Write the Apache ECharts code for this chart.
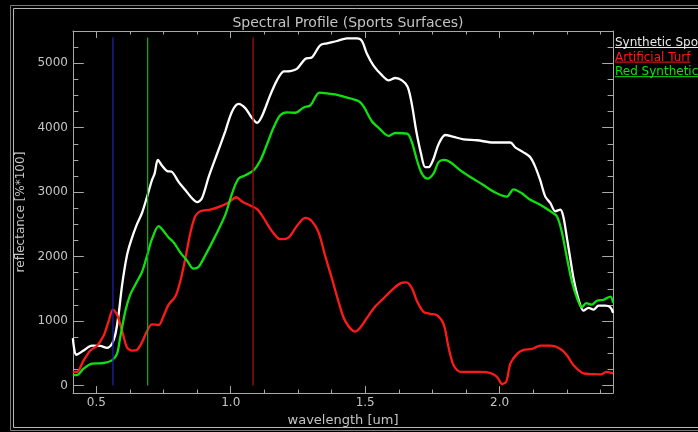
<!DOCTYPE html>
<html>
<head>
<meta charset="utf-8">
<script src="https://cdn.jsdelivr.net/npm/echarts@6/dist/echarts.min.js"></script>
<style>
html,body{margin:0;padding:0;background:#000;}
#chart{width:698px;height:432px;}
</style>
</head>
<body>
<div id="chart"></div>
<script>
// ---- data ----
const titleText = "Spectral Profile (Sports Surfaces)";
const xName = "wavelength [um]";
const yName = "reflectance [%*100]";
const seriesNames = ["Synthetic Sports Surface", "Artificial Turf", "Red Synthetic Track"];

const xMin = 0.4134, xMax = 2.4217;
const yMin = -117, yMax = 5500;
const xMajorTicks = [0.5, 1.0, 1.5, 2.0];
const xMinorTicks = [0.625, 0.75, 0.875, 1.125, 1.25, 1.375, 1.625, 1.75, 1.875, 2.125, 2.25, 2.375];
const yMajorTicks = [0, 1000, 2000, 3000, 4000, 5000];
const yMinorTicks = [250, 500, 750, 1250, 1500, 1750, 2250, 2500, 2750, 3250, 3500, 3750, 4250, 4500, 4750, 5250];

const whiteWl = [0.413,0.426,0.453,0.484,0.515,0.540,0.558,0.571,0.583,0.596,0.614,0.629,0.651,0.670,0.689,0.707,0.717,0.729,0.744,0.763,0.782,0.806,0.831,0.856,0.875,0.893,0.918,0.949,0.980,1.005,1.029,1.054,1.079,1.098,1.116,1.147,1.172,1.197,1.221,1.246,1.277,1.302,1.333,1.358,1.395,1.432,1.470,1.488,1.507,1.531,1.563,1.587,1.612,1.637,1.658,1.674,1.690,1.708,1.723,1.736,1.754,1.773,1.798,1.829,1.866,1.916,1.977,2.040,2.058,2.089,2.114,2.133,2.151,2.170,2.189,2.207,2.226,2.238,2.251,2.263,2.275,2.294,2.312,2.331,2.349,2.368,2.393,2.412,2.422];
const whiteVal = [736,477,543,619,614,584,645,797,1102,1559,2016,2245,2500,2677,2931,3186,3287,3500,3415,3328,3313,3160,3033,2906,2845,2906,3236,3592,3948,4253,4369,4303,4151,4075,4177,4506,4735,4872,4878,4913,5066,5091,5279,5309,5345,5386,5386,5345,5142,4963,4811,4735,4771,4735,4634,4354,3948,3592,3389,3389,3515,3744,3887,3857,3820,3805,3770,3770,3694,3617,3541,3389,3186,2931,2829,2703,2729,2600,2271,1966,1662,1331,1163,1204,1178,1239,1239,1213,1128];

const redWl = [0.413,0.428,0.453,0.478,0.503,0.527,0.546,0.562,0.577,0.596,0.614,0.633,0.651,0.670,0.689,0.707,0.732,0.750,0.769,0.794,0.812,0.831,0.850,0.868,0.887,0.924,0.961,0.992,1.021,1.042,1.066,1.098,1.122,1.153,1.184,1.215,1.246,1.277,1.302,1.327,1.352,1.377,1.401,1.426,1.463,1.482,1.507,1.538,1.569,1.600,1.631,1.653,1.674,1.693,1.717,1.742,1.767,1.792,1.810,1.829,1.854,1.891,1.928,1.964,1.990,2.009,2.025,2.040,2.065,2.089,2.120,2.151,2.189,2.226,2.251,2.275,2.312,2.349,2.374,2.399,2.422];
const redVal = [213,213,391,543,619,771,1000,1178,1102,848,594,543,553,671,848,950,939,1076,1255,1381,1610,1966,2372,2627,2703,2729,2779,2840,2921,2855,2805,2738,2600,2398,2271,2296,2474,2600,2550,2372,2000,1650,1300,1000,838,899,1052,1229,1357,1483,1585,1600,1509,1305,1143,1113,1092,950,594,314,213,213,213,198,137,24,61,340,492,553,568,619,619,568,466,314,188,177,172,213,188];

const greenWl = [0.413,0.428,0.453,0.484,0.527,0.558,0.577,0.589,0.608,0.626,0.651,0.670,0.689,0.707,0.732,0.750,0.769,0.788,0.812,0.837,0.862,0.880,0.905,0.943,0.980,1.005,1.029,1.054,1.085,1.110,1.135,1.159,1.184,1.209,1.240,1.271,1.296,1.330,1.358,1.395,1.420,1.475,1.494,1.525,1.550,1.587,1.612,1.656,1.674,1.693,1.711,1.732,1.754,1.773,1.792,1.817,1.854,1.891,1.940,1.978,2.027,2.052,2.083,2.114,2.151,2.189,2.213,2.232,2.251,2.269,2.288,2.306,2.322,2.343,2.362,2.387,2.412,2.422];
const greenVal = [162,162,264,340,350,391,492,747,1153,1407,1610,1762,2017,2271,2474,2398,2296,2220,2067,1941,1814,1838,2017,2322,2652,2982,3210,3262,3338,3491,3744,3998,4192,4238,4232,4314,4345,4543,4532,4510,4482,4415,4329,4100,3998,3872,3918,3907,3770,3491,3287,3210,3287,3465,3500,3465,3338,3236,3110,3008,2931,3043,2982,2881,2805,2703,2627,2372,1966,1610,1357,1213,1280,1255,1316,1331,1381,1280];

// band marker lines (wavelengths) and their height
const markerWl = [0.562, 0.691, 1.083];
const markerTop = 5400;

// ---- chart ----
const axisCol = '#a8a8a8';
const textCol = '#c4c4c4';
const FONT = 'DejaVu Sans';
const pairs = (xs, ys) => xs.map((x, i) => [x, ys[i]]);

function xAxisDef(pos, ticks, len, showLine, labels) {
  return {
    type: 'value', position: pos, min: xMin, max: xMax,
    axisLine: {show: showLine, onZero: false, lineStyle: {color: axisCol, width: 1}},
    axisTick: {show: true, inside: true, length: len, customValues: ticks, lineStyle: {color: axisCol, width: 1}},
    axisLabel: labels ? {show: true, customValues: ticks, formatter: v => Number(v).toFixed(1), color: textCol, fontSize: 12, fontFamily: FONT, margin: 4} : {show: false},
    splitLine: {show: false},
    name: labels ? xName : '', nameLocation: 'middle', nameGap: 14,
    nameTextStyle: {color: textCol, fontSize: 13, fontFamily: FONT}
  };
}
function yAxisDef(pos, ticks, len, showLine, labels) {
  return {
    type: 'value', position: pos, min: yMin, max: yMax,
    axisLine: {show: showLine, onZero: false, lineStyle: {color: axisCol, width: 1}},
    axisTick: {show: true, inside: true, length: len, customValues: ticks, lineStyle: {color: axisCol, width: 1}},
    axisLabel: labels ? {show: true, customValues: ticks, formatter: v => String(Math.round(v)), color: textCol, fontSize: 12, fontFamily: FONT, margin: 5} : {show: false},
    splitLine: {show: false},
    name: labels ? yName : '', nameLocation: 'middle', nameGap: 44, nameRotate: 90,
    nameTextStyle: {color: textCol, fontSize: 12, fontFamily: FONT}
  };
}

const chart = echarts.init(document.getElementById('chart'), null, {renderer: 'canvas'});

const colors = ['#ffffff', '#ff1a1a', '#10e010'];
const legendColors = ['#e8e8e8', '#ff1a1a', '#10e010'];
const markerColors = ['#2020a8', '#10a810', '#a01010'];
const curveData = [pairs(whiteWl, whiteVal), pairs(redWl, redVal), pairs(greenWl, greenVal)];

const series = [];
curveData.forEach((d, i) => {
  series.push({
    name: seriesNames[i], type: 'line', data: d, xAxisIndex: 0, yAxisIndex: 0,
    showSymbol: false, smooth: 0.3, z: 3,
    lineStyle: {color: colors[i], width: 2.3}
  });
});
markerWl.forEach((w, i) => {
  series.push({
    name: 'band' + i, type: 'line', data: [[w, 0], [w, markerTop]], xAxisIndex: 0, yAxisIndex: 0,
    showSymbol: false, z: 4, silent: true,
    lineStyle: {color: markerColors[i], width: 1.3}
  });
});

// legend (underlined coloured names at the right edge)
const mctx = document.createElement('canvas').getContext('2d');
const legendFont = '12px "' + FONT + '"';
mctx.font = legendFont;
const legendX = 615, legendBase0 = 46, legendStep = 14.6;
const graphics = [
  {type: 'rect', shape: {x: 10.5, y: 5.5, width: 720, height: 425}, style: {fill: null, stroke: '#7a7a7a', lineWidth: 1}, silent: true},
  {type: 'rect', shape: {x: 13.5, y: 8.5, width: 720, height: 419}, style: {fill: null, stroke: '#b8b8b8', lineWidth: 1}, silent: true}
];
seriesNames.forEach((n, i) => {
  const base = legendBase0 + i * legendStep;
  const w = mctx.measureText(n).width;
  graphics.push({type: 'text', x: legendX, y: base + 3, style: {text: n, fill: legendColors[i], font: legendFont, align: 'left', verticalAlign: 'bottom'}, silent: true});
  graphics.push({type: 'line', shape: {x1: legendX, y1: base + 1.5, x2: legendX + w, y2: base + 1.5}, style: {stroke: legendColors[i], lineWidth: 1}, silent: true});
});

chart.setOption({
  backgroundColor: '#000000',
  animation: false,
  title: {text: titleText, left: 343, top: 11, textAlign: 'center',
    textStyle: {color: textCol, fontSize: 14, fontWeight: 'normal', fontFamily: FONT}},
  grid: {left: 73, top: 31, width: 540, height: 369, containLabel: false, show: false},
  xAxis: [
    xAxisDef('bottom', xMajorTicks, 7, true, true),
    xAxisDef('bottom', xMinorTicks, 3.5, false, false),
    xAxisDef('top', xMajorTicks, 7, true, false),
    xAxisDef('top', xMinorTicks, 3.5, false, false)
  ],
  yAxis: [
    yAxisDef('left', yMajorTicks, 10.8, true, true),
    yAxisDef('left', yMinorTicks, 5.4, false, false),
    yAxisDef('right', yMajorTicks, 10.8, true, false),
    yAxisDef('right', yMinorTicks, 5.4, false, false)
  ],
  series: series,
  graphic: graphics
});
</script>
</body>
</html>
